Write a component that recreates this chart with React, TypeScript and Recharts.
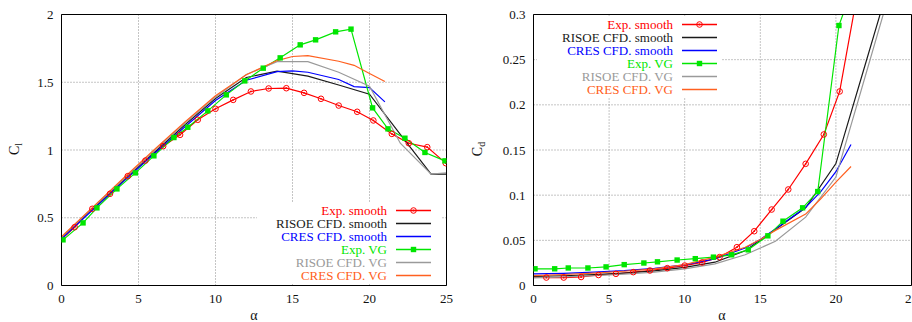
import React from 'react';
import { LineChart, Line, XAxis, YAxis, CartesianGrid } from 'recharts';

// ---------- tick values ----------
const AOA_TICKS = [0, 5, 10, 15, 20, 25];
const CL_TICKS = [0, 0.5, 1, 1.5, 2];
const CD_TICKS = [0, 0.05, 0.1, 0.15, 0.2, 0.25, 0.3];

// ---------- Exp. smooth ----------
const EXP_SMOOTH_AOA = [-0.3, 0.85, 2.0, 3.15, 4.3, 5.45, 6.6, 7.7, 8.85, 10.0, 11.15, 12.3, 13.45, 14.6, 15.75, 16.85, 18.0, 19.2, 20.25, 21.45, 22.55, 23.75, 24.95];
const EXP_SMOOTH_CL = [0.31, 0.43, 0.566, 0.677, 0.807, 0.922, 1.028, 1.112, 1.223, 1.304, 1.37, 1.432, 1.454, 1.456, 1.422, 1.378, 1.328, 1.282, 1.218, 1.119, 1.05, 1.021, 0.903];
const EXP_SMOOTH_CD = [0.0092, 0.0088, 0.0088, 0.0094, 0.0116, 0.0129, 0.0148, 0.0166, 0.0192, 0.0221, 0.0255, 0.0314, 0.0424, 0.0601, 0.0841, 0.1063, 0.1347, 0.1672, 0.2148, 0.326];

// ---------- Exp. VG ----------
const EXP_VG_AOA = [0.1, 1.4, 2.3, 3.6, 4.8, 6.0, 7.3, 8.2, 9.5, 10.7, 11.9, 13.1, 14.2, 15.5, 16.5, 17.8, 18.8, 20.2, 21.2, 22.3, 23.6, 24.9];
const EXP_VG_CL = [0.337, 0.462, 0.573, 0.713, 0.831, 0.957, 1.092, 1.168, 1.289, 1.407, 1.51, 1.604, 1.68, 1.776, 1.813, 1.872, 1.892, 1.311, 1.156, 1.087, 0.982, 0.92];
const EXP_VG_CD = [0.0185, 0.0185, 0.0194, 0.0194, 0.0206, 0.0231, 0.0249, 0.0262, 0.0282, 0.0297, 0.0314, 0.034, 0.0395, 0.055, 0.0712, 0.086, 0.104, 0.2878, 0.334];

// ---------- RISOE CFD ----------
const RISOE_AOA = [0, 2, 4, 6, 8, 10, 12, 14, 16, 18, 20, 22, 24, 25];
const RISOE_SMOOTH_CL = [0.352, 0.565, 0.775, 0.98, 1.185, 1.38, 1.535, 1.582, 1.545, 1.48, 1.412, 1.115, 0.822, 0.822];
const RISOE_SMOOTH_CD = [0.01, 0.0108, 0.012, 0.0138, 0.0162, 0.02, 0.0258, 0.0385, 0.062, 0.086, 0.135, 0.248, 0.361, 0.42];
const RISOE_VG_CL = [0.355, 0.57, 0.78, 0.99, 1.195, 1.39, 1.557, 1.652, 1.652, 1.574, 1.47, 1.05, 0.822, 0.832];
const RISOE_VG_CD = [0.0085, 0.0095, 0.0108, 0.0125, 0.0148, 0.0185, 0.024, 0.034, 0.049, 0.0757, 0.12, 0.235, 0.35, 0.41];

// ---------- CRES CFD ----------
const CRES_AOA = [0, 2, 4, 6, 8, 10, 12, 14, 15, 16, 18, 19, 20, 21];
const CRES_SMOOTH_CL = [0.345, 0.555, 0.765, 0.97, 1.17, 1.365, 1.515, 1.578, 1.584, 1.574, 1.52, 1.468, 1.46, 1.355];
const CRES_SMOOTH_CD = [0.0128, 0.0135, 0.0148, 0.0165, 0.019, 0.0228, 0.0295, 0.0415, 0.051, 0.0625, 0.0865, 0.104, 0.126, 0.156];
const CRES_VG_CL = [0.36, 0.575, 0.79, 1.0, 1.205, 1.4, 1.555, 1.66, 1.69, 1.697, 1.655, 1.625, 1.565, 1.505];
const CRES_VG_CD = [0.011, 0.0122, 0.0138, 0.0158, 0.0185, 0.0232, 0.0314, 0.0424, 0.051, 0.061, 0.079, 0.096, 0.1144, 0.1317];

const zip = (a: number[], v: number[]) => v.map((y, i) => ({ a: a[i], v: y }));

const FONT = '"Liberation Serif", "Times New Roman", serif';

type Marker = 'circle' | 'square' | null;
interface Series {
  name: string;
  color: string;
  marker: Marker;
  cl: { a: number; v: number }[];
  cd: { a: number; v: number }[];
}

const SERIES: Series[] = [
  { name: 'Exp. smooth', color: '#ff0000', marker: 'circle', cl: zip(EXP_SMOOTH_AOA, EXP_SMOOTH_CL), cd: zip(EXP_SMOOTH_AOA, EXP_SMOOTH_CD) },
  { name: 'RISOE CFD. smooth', color: '#1a1a1a', marker: null, cl: zip(RISOE_AOA, RISOE_SMOOTH_CL), cd: zip(RISOE_AOA, RISOE_SMOOTH_CD) },
  { name: 'CRES CFD. smooth', color: '#0000ff', marker: null, cl: zip(CRES_AOA, CRES_SMOOTH_CL), cd: zip(CRES_AOA, CRES_SMOOTH_CD) },
  { name: 'Exp. VG', color: '#00e600', marker: 'square', cl: zip(EXP_VG_AOA, EXP_VG_CL), cd: zip(EXP_VG_AOA, EXP_VG_CD) },
  { name: 'RISOE CFD. VG', color: '#9a9a9a', marker: null, cl: zip(RISOE_AOA, RISOE_VG_CL), cd: zip(RISOE_AOA, RISOE_VG_CD) },
  { name: 'CRES CFD. VG', color: '#ff6020', marker: null, cl: zip(CRES_AOA, CRES_VG_CL), cd: zip(CRES_AOA, CRES_VG_CD) },
];

const MarkerShape = ({ kind, color, cx, cy }: { kind: Marker; color: string; cx: number; cy: number }) => {
  if (kind === 'circle') {
    return (
      <g>
        <circle cx={cx} cy={cy} r={2.8} fill="none" stroke={color} strokeWidth={1} />
        <circle cx={cx} cy={cy} r={0.9} fill={color} />
      </g>
    );
  }
  if (kind === 'square') {
    return <rect x={cx - 2.7} y={cy - 2.7} width={5.4} height={5.4} fill={color} />;
  }
  return null;
};

const makeDot = (kind: Marker, color: string) => (props: any) => {
  const { cx, cy, index } = props;
  if (cx == null || cy == null || isNaN(cx) || isNaN(cy)) return <g key={`d${index}`} />;
  return (
    <g key={`d${index}`}>
      <MarkerShape kind={kind} color={color} cx={cx} cy={cy} />
    </g>
  );
};

const tickStyle = { fontFamily: FONT, fontSize: 13, fill: '#111' };

interface PanelProps {
  width: number;
  margin: { top: number; right: number; bottom: number; left: number };
  yWidth: number;
  yDomain: [number, number];
  yTicks: number[];
  field: 'cl' | 'cd';
}

const Panel = ({ width, margin, yWidth, yDomain, yTicks, field }: PanelProps) => (
  <LineChart width={width} height={322} margin={margin}>
    <CartesianGrid xAxisId="b" yAxisId="l" stroke="#8a8a8a" strokeDasharray="1 2" strokeWidth={1} />
    <XAxis
      xAxisId="b"
      type="number"
      dataKey="a"
      domain={[0, 25]}
      ticks={AOA_TICKS}
      allowDataOverflow
      orientation="bottom"
      height={30}
      axisLine={{ stroke: '#000', strokeWidth: 1 }}
      tickLine={false}
      tickSize={6}
      tickMargin={2}
      tick={tickStyle}
      interval={0}
    />
    <XAxis xAxisId="bm" type="number" dataKey="a" domain={[0, 25]} ticks={AOA_TICKS} allowDataOverflow orientation="bottom" mirror axisLine={false} tick={false} tickSize={4} tickLine={{ stroke: '#000' }} interval={0} />
    <XAxis xAxisId="t" type="number" dataKey="a" domain={[0, 25]} ticks={AOA_TICKS} allowDataOverflow orientation="top" mirror axisLine={{ stroke: '#000' }} tick={false} tickSize={4} tickLine={{ stroke: '#000' }} interval={0} />
    <YAxis
      yAxisId="l"
      type="number"
      domain={yDomain}
      ticks={yTicks}
      allowDataOverflow
      orientation="left"
      width={yWidth}
      axisLine={{ stroke: '#000', strokeWidth: 1 }}
      tickLine={false}
      tickSize={6}
      tickMargin={2}
      tick={tickStyle}
      interval={0}
    />
    <YAxis yAxisId="lm" type="number" domain={yDomain} ticks={yTicks} allowDataOverflow orientation="left" mirror axisLine={false} tick={false} tickSize={4} tickLine={{ stroke: '#000' }} interval={0} />
    <YAxis yAxisId="r" type="number" domain={yDomain} ticks={yTicks} allowDataOverflow orientation="right" mirror axisLine={{ stroke: '#000' }} tick={false} tickSize={4} tickLine={{ stroke: '#000' }} interval={0} />
    {SERIES.map((s) => (
      <Line
        key={s.name}
        xAxisId="b"
        yAxisId="l"
        data={s[field]}
        dataKey="v"
        name={s.name}
        type="linear"
        stroke={s.color}
        strokeWidth={1.2}
        dot={s.marker ? makeDot(s.marker, s.color) : false}
        activeDot={false}
        isAnimationActive={false}
      />
    ))}
  </LineChart>
);

const LegendBox = ({ left, top, width, textWidth }: { left: number; top: number; width: number; textWidth: number }) => (
  <div
    style={{
      position: 'absolute',
      left,
      top,
      width,
      height: 80,
      background: '#fff',
      fontFamily: FONT,
      fontSize: 13,
      paddingTop: 0.5,
      boxSizing: 'border-box',
    }}
  >
    {SERIES.map((s) => (
      <div key={s.name} style={{ display: 'flex', alignItems: 'center', height: 13 }}>
        <span style={{ width: textWidth, textAlign: 'right', color: s.color, whiteSpace: 'nowrap', lineHeight: '13px' }}>{s.name}</span>
        <svg width={44} height={13} style={{ display: 'block' }}>
          <line x1={9} x2={44} y1={6.5} y2={6.5} stroke={s.color} strokeWidth={1.3} />
          <MarkerShape kind={s.marker} color={s.color} cx={26.5} cy={6.5} />
        </svg>
      </div>
    ))}
  </div>
);

const Label = ({ x, y, rotate, children }: { x: number; y: number; rotate?: boolean; children: React.ReactNode }) => (
  <div
    style={{
      position: 'absolute',
      left: x,
      top: y,
      transform: `translate(-50%, -50%)${rotate ? ' rotate(-90deg)' : ''}`,
      fontFamily: FONT,
      fontSize: 14,
      color: '#111',
      whiteSpace: 'nowrap',
      lineHeight: '14px',
    }}
  >
    {children}
  </div>
);

export default function App() {
  return (
    <div style={{ position: 'absolute', left: 0, top: 0, width: 912, height: 322, overflow: 'hidden', background: '#fff' }}>
      <div style={{ position: 'absolute', left: 0, top: 0 }}>
        <Panel width={460} margin={{ top: 14.5, right: 13.5, bottom: 6.5, left: 16.5 }} yWidth={45} yDomain={[0, 2]} yTicks={CL_TICKS} field="cl" />
      </div>
      <div style={{ position: 'absolute', left: 460, top: 0 }}>
        <Panel width={452} margin={{ top: 14.5, right: 0.5, bottom: 6.5, left: 23.5 }} yWidth={50} yDomain={[0, 0.3]} yTicks={CD_TICKS} field="cd" />
      </div>
      <LegendBox left={257} top={203} width={184} textWidth={130} />
      <LegendBox left={537} top={17} width={185} textWidth={136} />
      <Label x={254} y={315.5}>α</Label>
      <Label x={722} y={315.5}>α</Label>
      <Label x={17} y={149} rotate>
        C<sub style={{ fontSize: 10 }}>l</sub>
      </Label>
      <Label x={480} y={149} rotate>
        C<sub style={{ fontSize: 10 }}>d</sub>
      </Label>
    </div>
  );
}
